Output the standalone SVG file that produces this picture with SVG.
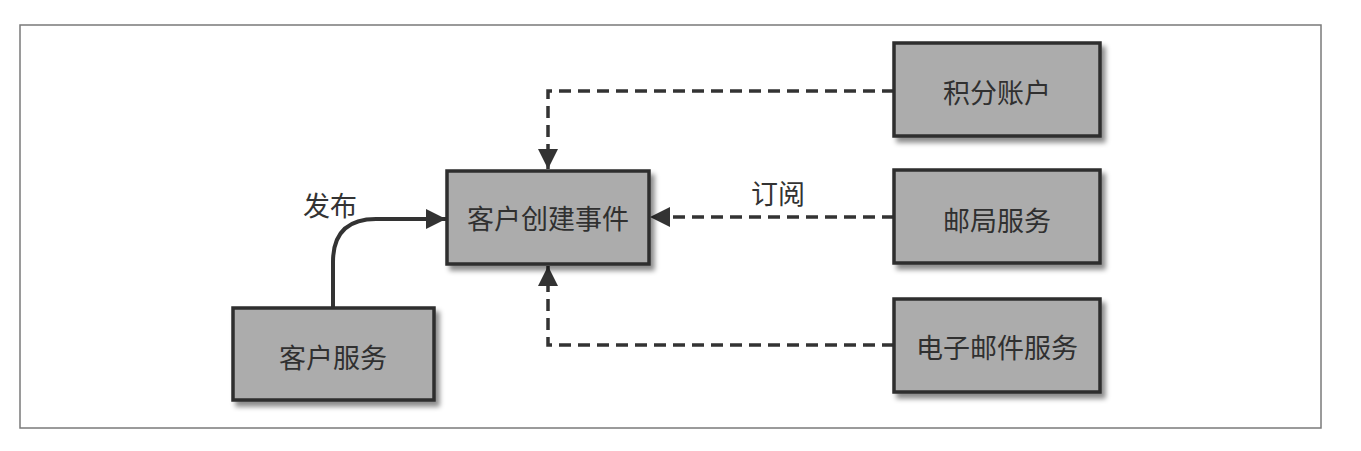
<svg xmlns="http://www.w3.org/2000/svg" width="1361" height="451" viewBox="0 0 1361 451">
<defs>
<style>
.node rect{fill:#acacac;stroke:#2e2e2e;stroke-width:3.5;filter:url(#sh)}
.node text{font-family:"Noto Sans CJK SC","Noto Sans",sans-serif;font-size:27px;fill:#303030;text-anchor:middle;dominant-baseline:central}
.lbl{font-family:"Noto Sans CJK SC","Noto Sans",sans-serif;font-size:27px;fill:#333;text-anchor:middle;dominant-baseline:central}
.solid{fill:none;stroke:#333;stroke-width:4}
.dash{fill:none;stroke:#333;stroke-width:3.5;stroke-dasharray:12 7}
</style>
<filter id="sh" x="-10%" y="-10%" width="130%" height="140%">
<feDropShadow dx="4" dy="5" stdDeviation="2.5" flood-color="#000" flood-opacity="0.45"/>
</filter>
<marker id="ah" viewBox="0 0 10 10" refX="10" refY="5" markerWidth="20" markerHeight="20" markerUnits="userSpaceOnUse" orient="auto">
<path d="M0,0 L10,5 L0,10 z" fill="#333"/>
</marker>
</defs>
<rect x="20" y="25" width="1301" height="403" fill="#fff" stroke="#7a7a7a" stroke-width="1.5"/>
<g id="connectors">
<path class="solid" d="M333,307 L333,262 Q333,219 376,219 L446,219" marker-end="url(#ah)"/>
<path class="dash" d="M894,91 L548,91 L548,169" marker-end="url(#ah)"/>
<path class="dash" d="M894,217 L650,217" marker-end="url(#ah)"/>
<path class="dash" d="M894,345 L548,345 L548,266" marker-end="url(#ah)"/>
</g>
<text class="lbl" x="330" y="204">发布</text>
<text class="lbl" x="778" y="192">订阅</text>
<g id="event" class="node"><rect x="447" y="171" width="202" height="93"/><text x="548" y="217">客户创建事件</text></g>
<g id="customer" class="node"><rect x="233" y="308" width="201" height="92"/><text x="333" y="356">客户服务</text></g>
<g id="points" class="node"><rect x="894" y="43" width="206" height="93"/><text x="997" y="91">积分账户</text></g>
<g id="post" class="node"><rect x="894" y="170" width="206" height="93"/><text x="997" y="219">邮局服务</text></g>
<g id="email" class="node"><rect x="894" y="299" width="206" height="93"/><text x="997" y="346">电子邮件服务</text></g>
</svg>
